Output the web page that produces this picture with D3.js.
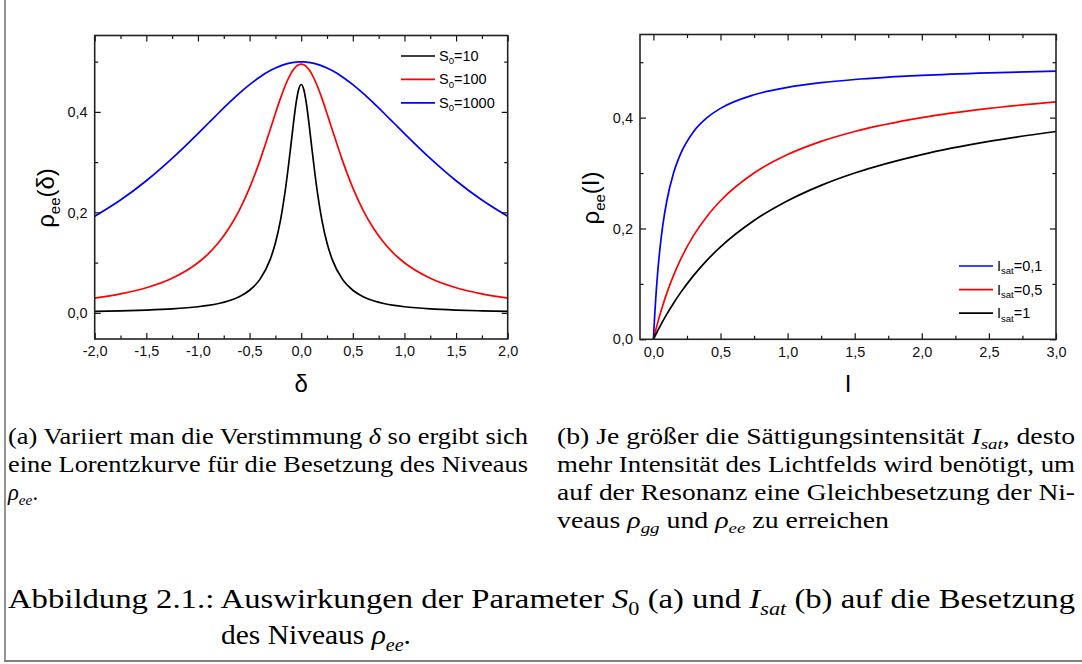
<!DOCTYPE html>
<html>
<head>
<meta charset="utf-8">
<script src="https://cdn.jsdelivr.net/npm/d3@7"></script>
<style>
  body { margin: 0; background: #fff; }
  svg { display: block; }
  text { white-space: pre; }
</style>
</head>
<body>
<svg id="fig" width="1082" height="664"></svg>
<script>
// ---- (a) excited-state population vs. detuning, for three saturation parameters ----
const deltaValues = [-2, -1.75, -1.5, -1.25, -1, -0.9, -0.8, -0.7, -0.6, -0.5, -0.4, -0.3, -0.25, -0.2, -0.15, -0.1, -0.075, -0.05, -0.025, 0,
                     0.025, 0.05, 0.075, 0.1, 0.15, 0.2, 0.25, 0.3, 0.4, 0.5, 0.6, 0.7, 0.8, 0.9, 1, 1.25, 1.5, 1.75, 2];
const rhoS10 = [0.0031, 0.0040, 0.0055, 0.0079, 0.0122, 0.0149, 0.0187, 0.0242, 0.0323, 0.0450, 0.0667, 0.1064, 0.1389, 0.1852, 0.2500, 0.3333, 0.3774, 0.4167, 0.4444, 0.4545,
                0.4444, 0.4167, 0.3774, 0.3333, 0.2500, 0.1852, 0.1389, 0.1064, 0.0667, 0.0450, 0.0323, 0.0242, 0.0187, 0.0149, 0.0122, 0.0079, 0.0055, 0.0040, 0.0031];
const rhoS100 = [0.0294, 0.0377, 0.0500, 0.0689, 0.0998, 0.1176, 0.1401, 0.1684, 0.2041, 0.2488, 0.3030, 0.3650, 0.3968, 0.4274, 0.4545, 0.4762, 0.4843, 0.4902, 0.4938, 0.4950,
                 0.4938, 0.4902, 0.4843, 0.4762, 0.4545, 0.4274, 0.3968, 0.3650, 0.3030, 0.2488, 0.2041, 0.1684, 0.1401, 0.1176, 0.0998, 0.0689, 0.0500, 0.0377, 0.0294];
const rhoS1000 = [0.1922, 0.2246, 0.2630, 0.3075, 0.3569, 0.3774, 0.3978, 0.4177, 0.4367, 0.4541, 0.4695, 0.4822, 0.4873, 0.4916, 0.4950, 0.4975, 0.4984, 0.4990, 0.4994, 0.4995,
                  0.4994, 0.4990, 0.4984, 0.4975, 0.4950, 0.4916, 0.4873, 0.4822, 0.4695, 0.4541, 0.4367, 0.4177, 0.3978, 0.3774, 0.3569, 0.3075, 0.2630, 0.2246, 0.1922];
const deltaTicks = [-2, -1.5, -1, -0.5, 0, 0.5, 1, 1.5, 2];
const deltaMinorTicks = [-1.75, -1.25, -0.75, -0.25, 0.25, 0.75, 1.25, 1.75];
const rhoTicksA = [0, 0.2, 0.4];
const rhoMinorTicksA = [0.1, 0.3, 0.5];

// ---- (b) excited-state population vs. intensity, for three saturation intensities ----
const intensityValues = [0, 0.01, 0.02, 0.03, 0.05, 0.07, 0.1, 0.15, 0.2, 0.3, 0.4, 0.5, 0.75, 1, 1.25, 1.5, 2, 2.5, 3];
const rhoIsat01 = [0, 0.0455, 0.0833, 0.1154, 0.1667, 0.2059, 0.2500, 0.3000, 0.3333, 0.3750, 0.4000, 0.4167, 0.4412, 0.4545, 0.4630, 0.4688, 0.4762, 0.4808, 0.4839];
const rhoIsat05 = [0, 0.0098, 0.0192, 0.0283, 0.0455, 0.0614, 0.0833, 0.1154, 0.1429, 0.1875, 0.2222, 0.2500, 0.3000, 0.3333, 0.3571, 0.3750, 0.4000, 0.4167, 0.4286];
const rhoIsat1 = [0, 0.0050, 0.0098, 0.0146, 0.0238, 0.0327, 0.0455, 0.0652, 0.0833, 0.1154, 0.1429, 0.1667, 0.2143, 0.2500, 0.2778, 0.3000, 0.3333, 0.3571, 0.3750];
const intensityTicks = [0, 0.5, 1, 1.5, 2, 2.5, 3];
const intensityMinorTicks = [0.25, 0.75, 1.25, 1.75, 2.25, 2.75];
const rhoTicksB = [0, 0.2, 0.4];
const rhoMinorTicksB = [0.1, 0.3, 0.5];

const SANS = "'Liberation Sans', Arial, sans-serif";
const SERIF = "'Liberation Serif', 'Times New Roman', serif";
const svg = d3.select("#fig");
// German decimal comma, plain hyphen for negatives
const commaFmt = d => d3.format(".1f")(d).replace(".", ",").replace("\u2212", "-");

// Rich text: plain strings, or {t, i (italic), sub (subscript)} pieces.
function richText(parent, x, y, size, family, pieces, subSize) {
  const t = parent.append("text").attr("x", x).attr("y", y)
    .attr("font-family", family).attr("font-size", size).attr("fill", "#000");
  let shift = 0;
  pieces.forEach(p => {
    const o = typeof p === "string" ? { t: p } : p;
    const ts = t.append("tspan").text(o.t);
    const target = o.sub ? size * 0.24 : 0;
    if (target !== shift) { ts.attr("dy", target - shift); shift = target; }
    if (o.sub) ts.attr("font-size", subSize || size * 0.68);
    if (o.i) ts.attr("font-style", "italic");
  });
  return t;
}

function panel(cfg) {
  const g = svg.append("g");
  const x = d3.scaleLinear().domain(cfg.xDomain).range([cfg.left, cfg.right]);
  const y = d3.scaleLinear().domain(cfg.yDomain).range([cfg.bottom, cfg.top]);
  const clipId = "clip" + cfg.id;
  svg.append("clipPath").attr("id", clipId).append("rect")
    .attr("x", cfg.left).attr("y", cfg.top)
    .attr("width", cfg.right - cfg.left).attr("height", cfg.bottom - cfg.top);

  // curves
  const line = d3.line().x(d => x(d[0])).y(d => y(d[1])).curve(d3.curveMonotoneX);
  cfg.series.forEach(s => {
    g.append("path").datum(cfg.xs.map((v, i) => [v, s.values[i]]))
      .attr("clip-path", `url(#${clipId})`)
      .attr("fill", "none").attr("stroke", s.color).attr("stroke-width", 1.7)
      .attr("d", line);
  });

  // axes: ticks point inwards on all four sides
  const styleAxis = sel => {
    sel.select(".domain").remove();
    sel.selectAll(".tick line").attr("stroke", "#111").attr("stroke-width", 1.2);
    sel.selectAll(".tick text").attr("font-family", SANS).attr("font-size", 14.5).attr("fill", "#111");
  };
  g.append("g").attr("transform", `translate(0,${cfg.bottom})`)
    .call(d3.axisBottom(x).tickValues(cfg.xTicks).tickSize(-6).tickSizeOuter(0).tickPadding(7).tickFormat(commaFmt)).call(styleAxis);
  g.append("g").attr("transform", `translate(0,${cfg.bottom})`)
    .call(d3.axisBottom(x).tickValues(cfg.xMinor).tickSize(-3.5).tickSizeOuter(0).tickFormat("")).call(styleAxis);
  g.append("g").attr("transform", `translate(0,${cfg.top})`)
    .call(d3.axisTop(x).tickValues(cfg.xTicks).tickSize(-6).tickSizeOuter(0).tickFormat("")).call(styleAxis);
  g.append("g").attr("transform", `translate(0,${cfg.top})`)
    .call(d3.axisTop(x).tickValues(cfg.xMinor).tickSize(-3.5).tickSizeOuter(0).tickFormat("")).call(styleAxis);
  g.append("g").attr("transform", `translate(${cfg.left},0)`)
    .call(d3.axisLeft(y).tickValues(cfg.yTicks).tickSize(-6).tickSizeOuter(0).tickPadding(7).tickFormat(commaFmt)).call(styleAxis);
  g.append("g").attr("transform", `translate(${cfg.left},0)`)
    .call(d3.axisLeft(y).tickValues(cfg.yMinor).tickSize(-3.5).tickSizeOuter(0).tickFormat("")).call(styleAxis);
  g.append("g").attr("transform", `translate(${cfg.right},0)`)
    .call(d3.axisRight(y).tickValues(cfg.yTicks).tickSize(-6).tickSizeOuter(0).tickFormat("")).call(styleAxis);
  g.append("g").attr("transform", `translate(${cfg.right},0)`)
    .call(d3.axisRight(y).tickValues(cfg.yMinor).tickSize(-3.5).tickSizeOuter(0).tickFormat("")).call(styleAxis);

  // frame
  g.append("rect").attr("x", cfg.left).attr("y", cfg.top)
    .attr("width", cfg.right - cfg.left).attr("height", cfg.bottom - cfg.top)
    .attr("fill", "none").attr("stroke", "#222").attr("stroke-width", 1.6);

  // axis titles
  richText(g, (cfg.left + cfg.right) / 2, cfg.bottom + 53, 24, SANS, cfg.xTitle).attr("text-anchor", "middle");
  richText(g, 0, 0, 24, SANS, cfg.yTitle, 15).attr("text-anchor", "middle")
    .attr("transform", `translate(${cfg.yTitleX},${cfg.yTitleY}) rotate(-90)`);

  // legend
  cfg.series.forEach((s, i) => {
    const ly = cfg.legend.y + i * cfg.legend.step;
    g.append("line").attr("x1", cfg.legend.x).attr("x2", cfg.legend.x + 34)
      .attr("y1", ly).attr("y2", ly).attr("stroke", s.color).attr("stroke-width", 1.7);
    richText(g, cfg.legend.x + 38, ly + 5, 14.5, SANS, s.label, 9.5);
  });
}

// frame of the figure box
svg.append("line").attr("x1", 5).attr("x2", 5).attr("y1", 0).attr("y2", 661)
  .attr("stroke", "#707070").attr("stroke-width", 1.5);
svg.append("line").attr("x1", 4).attr("x2", 1082).attr("y1", 661).attr("y2", 661)
  .attr("stroke", "#808080").attr("stroke-width", 2.2);

panel({
  id: "a", left: 94.7, right: 507.7, top: 35.5, bottom: 339,
  xDomain: [-2, 2], yDomain: [-0.052, 0.552],
  xs: deltaValues,
  xTicks: deltaTicks, xMinor: deltaMinorTicks, yTicks: rhoTicksA, yMinor: rhoMinorTicksA,
  series: [
    { values: rhoS10, color: "#000000", label: ["S", { t: "0", sub: true }, "=10"] },
    { values: rhoS100, color: "#ff0000", label: ["S", { t: "0", sub: true }, "=100"] },
    { values: rhoS1000, color: "#0000ff", label: ["S", { t: "0", sub: true }, "=1000"] }
  ],
  xTitle: ["δ"],
  yTitle: ["ρ", { t: "ee", sub: true }, "(δ)"], yTitleX: 54, yTitleY: 198,
  legend: { x: 401, y: 56, step: 23.4 }
});

panel({
  id: "b", left: 640, right: 1056, top: 34.5, bottom: 339.3,
  xDomain: [-0.1, 3], yDomain: [0, 0.55],
  xs: intensityValues,
  xTicks: intensityTicks, xMinor: intensityMinorTicks, yTicks: rhoTicksB, yMinor: rhoMinorTicksB,
  series: [
    { values: rhoIsat01, color: "#0000ff", label: ["I", { t: "sat", sub: true }, "=0,1"] },
    { values: rhoIsat05, color: "#ff0000", label: ["I", { t: "sat", sub: true }, "=0,5"] },
    { values: rhoIsat1, color: "#000000", label: ["I", { t: "sat", sub: true }, "=1"] }
  ],
  xTitle: ["I"],
  yTitle: ["ρ", { t: "ee", sub: true }, "(I)"], yTitleX: 599, yTitleY: 198,
  legend: { x: 959, y: 266, step: 23.6 }
});

// ---- captions (justified lines are set to the column width) ----
function captionLine(x, y, size, pieces, width) {
  const t = richText(svg, x, y, size, SERIF, pieces);
  if (width) t.attr("textLength", width).attr("lengthAdjust", "spacingAndGlyphs");
  return t;
}
const capSize = 22.5;
captionLine(8, 444, capSize, ["(a) Variiert man die Verstimmung ", { t: "δ", i: true }, " so ergibt sich"], 520);
captionLine(8, 472, capSize, ["eine Lorentzkurve für die Besetzung des Niveaus"], 520);
captionLine(8, 500, capSize, [{ t: "ρ", i: true }, { t: "ee", i: true, sub: true }, "."]);

captionLine(557, 444, capSize, ["(b) Je größer die Sättigungsintensität ", { t: "I", i: true }, { t: "sat", i: true, sub: true }, ", desto"], 518);
captionLine(557, 472, capSize, ["mehr Intensität des Lichtfelds wird benötigt, um"], 518);
captionLine(557, 500, capSize, ["auf der Resonanz eine Gleichbesetzung der Ni-"], 518);
captionLine(557, 528, capSize, ["veaus ", { t: "ρ", i: true }, { t: "gg", i: true, sub: true }, " und ", { t: "ρ", i: true }, { t: "ee", i: true, sub: true }, " zu erreichen"], 332);

captionLine(8, 608, 28, ["Abbildung 2.1.: Auswirkungen der Parameter ", { t: "S", i: true }, { t: "0", sub: true }, " (a) und ", { t: "I", i: true }, { t: "sat", i: true, sub: true }, " (b) auf die Besetzung"], 1067);
captionLine(221, 644, 28, ["des Niveaus ", { t: "ρ", i: true }, { t: "ee", i: true, sub: true }, "."], 190);
</script>
</body>
</html>
